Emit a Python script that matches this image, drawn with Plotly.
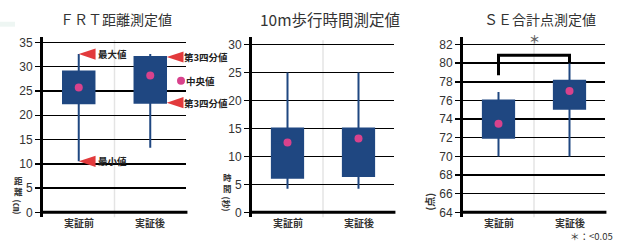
import plotly.graph_objects as go

W, H = 630, 242

categories = ["実証前", "実証後"]
titles = ["ＦＲＴ距離測定値", "10m歩行時間測定値", "ＳＥ合計点測定値"]

# FRT distance (cm)
frt_min = [10.5, 13.3]
frt_q1 = [22.5, 22.6]
frt_med = [25.7, 28.2]
frt_q3 = [29.0, 32.0]
frt_max = [32.6, 32.6]

# 10m walk time (s)
walk_min = [4.2, 4.2]
walk_q1 = [6.2, 6.5]
walk_med = [12.5, 13.2]
walk_q3 = [15.0, 15.0]
walk_max = [25.0, 25.0]

# SE total score (points)
se_min = [70.0, 70.0]
se_q1 = [72.0, 75.1]
se_med = [73.5, 77.0]
se_q3 = [76.0, 78.1]
se_max = [76.9, 80.0]

y_ranges = [[-1.02, 36.22], [-0.88, 31.41], [63.47, 82.85]]
y_dticks = [5, 5, 2]
y_tick0 = [0, 0, 64]
baselines = [0, 0, 64]

BOX = "#1f4781"
PINK = "#d8428c"
RED = "#e23a3c"
TXT = "#333333"
FONT = "Noto Sans CJK JP"

x_domains = [[43 / W, 186 / W], [252 / W, 394 / W], [463 / W, 605 / W]]
y_domain = [23 / H, 206 / H]

data_sets = [
    (frt_min, frt_q1, frt_med, frt_q3, frt_max),
    (walk_min, walk_q1, walk_med, walk_q3, walk_max),
    (se_min, se_q1, se_med, se_q3, se_max),
]

fig = go.Figure()
xs = [0, 1]
box_w = 0.44

for i, (mn, q1, md, q3, mx) in enumerate(data_sets):
    ax = "" if i == 0 else str(i + 1)
    fig.add_trace(go.Box(
        x=xs, q1=q1, median=md, q3=q3, lowerfence=mn, upperfence=mx,
        fillcolor=BOX, line=dict(color=BOX, width=2), whiskerwidth=0,
        width=box_w, boxpoints=False, showlegend=False,
        xaxis="x" + ax, yaxis="y" + ax, hoverinfo="skip"))
    fig.add_trace(go.Scatter(
        x=xs, y=md, mode="markers",
        marker=dict(color=PINK, size=8, line=dict(width=0)),
        showlegend=False, xaxis="x" + ax, yaxis="y" + ax, hoverinfo="skip"))

layout = dict(
    width=W, height=H, margin=dict(l=0, r=0, t=0, b=0),
    paper_bgcolor="white", plot_bgcolor="white",
    font=dict(family=FONT, color=TXT), showlegend=False,
)
shapes = []
annotations = []


def ptext(text, x, y, size=10, color=TXT, xanchor="center", angle=0):
    annotations.append(dict(text=text, xref="paper", yref="paper",
                            x=x / W, y=1 - y / H, showarrow=False, borderpad=0,
                            textangle=angle, font=dict(size=size, color=color),
                            xanchor=xanchor, yanchor="middle"))


title_sizes = [14, 15.5, 14]
title_pos = [0.51, 0.55, 0.54]

for i in range(3):
    ax = "" if i == 0 else str(i + 1)
    xk = "xaxis" + ax
    yk = "yaxis" + ax
    layout[xk] = dict(domain=x_domains[i], range=[-0.5, 1.5], showgrid=False,
                      zeroline=False, showticklabels=False, ticks="",
                      anchor="y" + ax, fixedrange=True)
    layout[yk] = dict(domain=y_domain, range=y_ranges[i], anchor="x" + ax,
                      tick0=y_tick0[i], dtick=y_dticks[i],
                      showgrid=True, gridcolor="black", gridwidth=1.5,
                      zeroline=False, showline=True, linecolor="black",
                      linewidth=3, ticks="outside", ticklen=5, tickwidth=1.5,
                      tickcolor="black", fixedrange=True,
                      tickfont=dict(family="Liberation Sans", size=12, color=TXT))
    xr = "x" + ax
    yr = "y" + ax
    shapes.append(dict(type="line", xref=xr, yref=yr + " domain", x0=0.5, x1=0.5,
                       y0=0, y1=0.98, line=dict(color="#e4e4e4", width=1.5),
                       layer="below"))
    shapes.append(dict(type="line", xref=xr + " domain", yref=yr, x0=0, x1=1.01,
                       y0=baselines[i], y1=baselines[i],
                       line=dict(color="black", width=3)))
    annotations.append(dict(text=titles[i], xref=xr + " domain", yref="paper",
                            x=title_pos[i], y=1 - 18 / H,
                            showarrow=False,
                            font=dict(size=title_sizes[i], color=TXT),
                            xanchor="center", yanchor="middle"))
    for j, c in enumerate(categories):
        annotations.append(dict(text="<b>" + c + "</b>", xref=xr, yref="paper",
                                x=xs[j], y=1 - 224 / H, showarrow=False,
                                borderpad=0,
                                font=dict(size=10, color=TXT),
                                xanchor="center", yanchor="middle"))

# y titles (vertical writing)
ptext("<b>距<br>離</b>", 18, 187, size=8.5)
ptext("<b>(㎝)</b>", 18, 208, size=8.5, angle=90)
ptext("<b>時<br>間</b>", 227, 184, size=8.5)
ptext("<b>(秒)</b>", 227, 205, size=8.5, angle=90)
ptext("<b>(点)</b>", 429, 203, size=10, angle=-90)

# pointer triangles in panel 1
tri_w = 0.235
tri_h = 1.15


def tri(xtip, y):
    return dict(type="path", xref="x", yref="y",
                path=f"M {xtip},{y} L {xtip + tri_w},{y + tri_h} L {xtip + tri_w},{y - tri_h} Z",
                fillcolor=RED, line=dict(width=0))


pointers = [
    (0, frt_max[0], "最大値", 97),
    (1 + box_w / 2 + 0.01, frt_q3[1], "第3四分値", 183),
    (1 + box_w / 2 + 0.01, frt_q1[1], "第3四分値", 183),
    (0, frt_min[0], "最小値", 97),
]
for xt, yv, label, tx in pointers:
    shapes.append(tri(xt, yv))
    annotations.append(dict(text="<b>" + label + "</b>", xref="paper", yref="y",
                            x=tx / W, y=yv, showarrow=False, borderpad=0,
                            font=dict(size=9.5, color="#222222"),
                            xanchor="left", yanchor="middle"))

# median legend
fig.add_trace(go.Scatter(x=[1.43], y=[27.1], mode="markers",
                         marker=dict(color=PINK, size=8), cliponaxis=False,
                         showlegend=False, xaxis="x", yaxis="y", hoverinfo="skip"))
annotations.append(dict(text="<b>中央値</b>", xref="paper", yref="y", x=185 / W, y=27.1,
                        showarrow=False, borderpad=0,
                        font=dict(size=9.5, color="#222222"),
                        xanchor="left", yanchor="middle"))

# significance bracket in panel 3
shapes.append(dict(type="path", xref="x3", yref="y3",
                   path="M 0,78.7 L 0,80.85 L 1,80.85 L 1,80",
                   line=dict(color="black", width=3)))
annotations.append(dict(text="<b>＊</b>", xref="x3", yref="y3", x=0.5, y=82.6,
                        showarrow=False, font=dict(size=11, color="#666666"),
                        xanchor="center", yanchor="middle"))
ptext("＊：<0.05", 614, 237.5, size=9.5, xanchor="right")

# faint band top left
shapes.append(dict(type="rect", xref="paper", yref="paper", x0=0, x1=15 / W,
                   y0=1 - 26 / H, y1=1 - 21 / H, fillcolor="#eef6f3",
                   line=dict(width=0), layer="below"))

layout["shapes"] = shapes
layout["annotations"] = annotations
fig.update_layout(**layout)
fig.write_html("out.html", config={"displayModeBar": False, "staticPlot": True},
               post_script="document.body.style.margin='0';document.body.style.overflow='hidden';")
